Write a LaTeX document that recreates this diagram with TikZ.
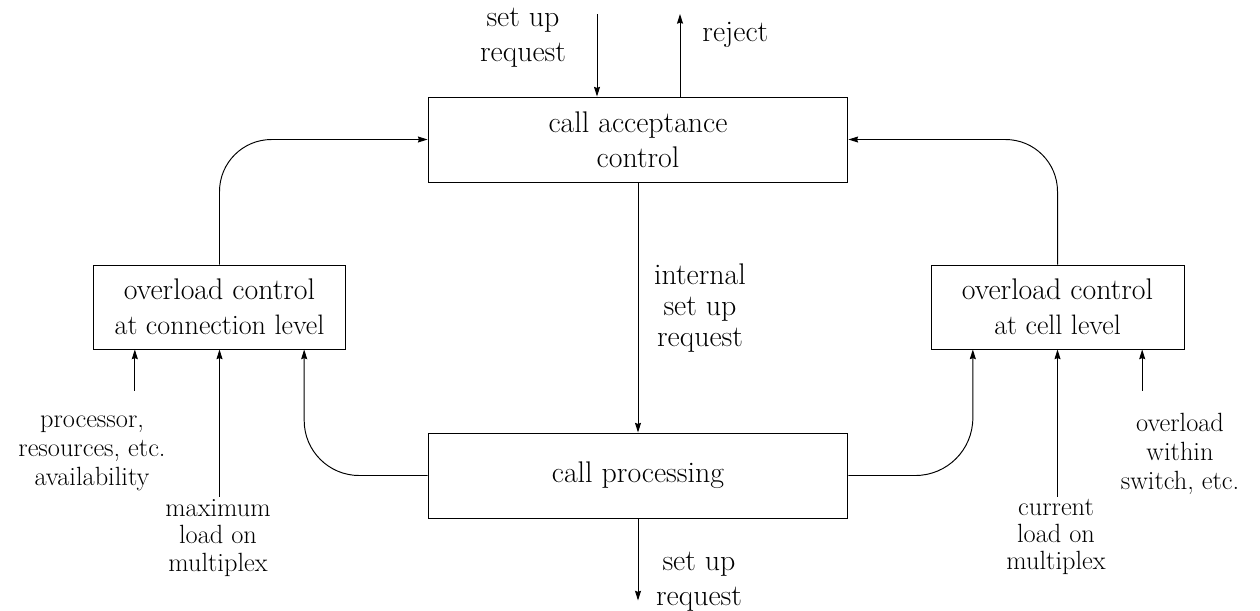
\documentclass[tikz,border=0pt]{standalone}
\usepackage{fontspec}
\usetikzlibrary{arrows.meta,calc}

\tikzset{
  blok/.style={draw, minimum width=#1, minimum height=1.7cm, inner sep=0pt,
    align=center, font=\fontsize{17}{20}\selectfont},
  velky/.style={align=center, inner sep=0pt, font=\fontsize{17}{20}\selectfont},
  popis/.style={align=center, inner sep=0pt, font=\fontsize{15}{16.5}\selectfont},
}

\begin{document}
\begin{tikzpicture}[x=0.02cm, y=-0.02cm, line width=0.55pt,
    >={Stealth[length=5.5pt,width=3.4pt,inset=0.6pt]}]
    \useasboundingbox (0,0) rectangle (1260,610);

    % bloky
    \node[blok=8.4cm] (cac) at (638,139.5) {call acceptance\\control};
    \node[blok=8.4cm] (cp) at (638,475.5) {call processing};
    \node[blok=5.06cm, minimum height=1.68cm] (ocl) at (219.5,307)
        {overload control\\{\fontsize{16}{20}\selectfont at connection level}};
    \node[blok=5.06cm, minimum height=1.68cm] (ocell) at (1057.5,307)
        {overload control\\{\fontsize{16}{20}\selectfont at cell level}};

    % body na spodních hranách
    \coordinate (ol1) at ($(ocl.south)!0.667!(ocl.south west)$);
    \coordinate (ol3) at ($(ocl.south)!0.667!(ocl.south east)$);
    \coordinate (oc1) at ($(ocell.south)!0.667!(ocell.south west)$);
    \coordinate (oc3) at ($(ocell.south)!0.667!(ocell.south east)$);

    % vstup a odmítnutí nahoře
    \coordinate (req) at (597,14);
    \coordinate (rej) at (680,14);
    \draw[->] (req) -- (req |- cac.north);
    \draw[->] (rej |- cac.north) -- (rej);
    \node[velky] (reqtxt) at (523,38) {set up\\request};
    \node[velky, anchor=west] (rejtxt) at (702,35) {reject};

    % zpětné vazby
    \draw[->, rounded corners=1.04cm] (ocl.north) |- (cac.west);
    \draw[->, rounded corners=1.04cm] (ocell.north) |- (cac.east);
    \draw[->, rounded corners=1.1cm] (cp.west) -| (ol3);
    \draw[->, rounded corners=1.15cm] (cp.east) -| (oc1);

    % hlavní tok
    \draw[->] (cac.south) -- (cp.north);
    \node[velky, font=\fontsize{17}{17.5}\selectfont] (intreq) at (700,308)
        {internal\\set up\\request};
    \draw[->] (cp.south) -- ++(0,82);
    \node[velky] (outreq) at (699,582) {set up\\request};

    % vnější vstupy
    \draw[<-] (ol1) -- ++(0,42);
    \draw[<-] (ocl.south) -- ++(0,148);
    \draw[<-] (ocell.south) -- ++(0,148);
    \draw[<-] (oc3) -- ++(0,42);
    \node[popis] (proc) at (92,453) {processor,\\resources, etc.\\availability};
    \node[popis, font=\fontsize{15}{15.5}\selectfont] (maxld) at (218,538)
        {maximum\\load on\\multiplex};
    \node[popis, font=\fontsize{15}{15.5}\selectfont] (curld) at (1056,537)
        {current\\load on\\multiplex};
    \node[popis] (ovl) at (1180,454) {overload\\within\\switch, etc.};
\end{tikzpicture}
\end{document}
